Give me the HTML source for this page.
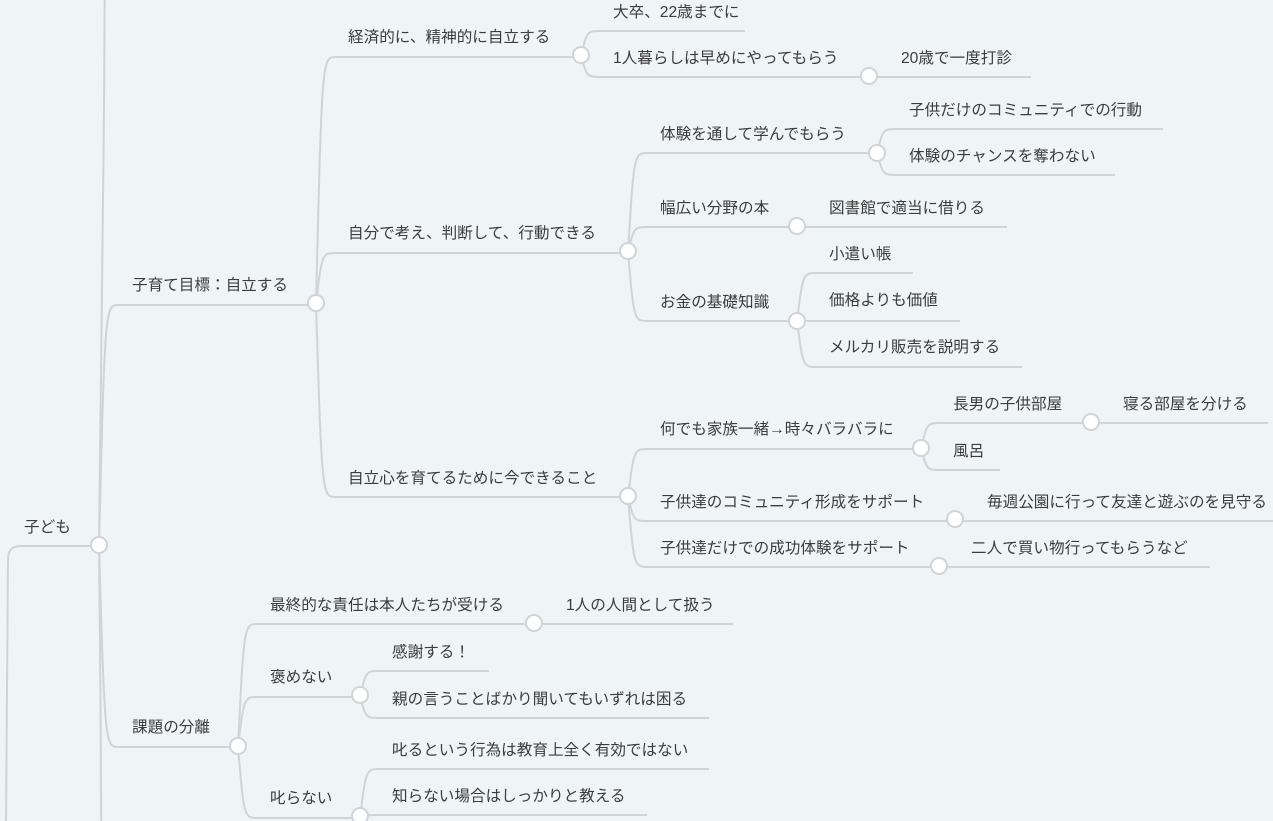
<!DOCTYPE html>
<html><head><meta charset="utf-8"><style>
html,body{margin:0;padding:0;background:#eff4f7;width:1273px;height:821px;overflow:hidden;}
svg{display:block}
text{font-family:"Liberation Sans","Noto Sans CJK JP",sans-serif;font-size:15.6px;fill:#3c3c3c;}
path{fill:none;stroke:#d0d4d8;stroke-width:2;}
circle{fill:#fff;stroke:#d0d4d8;stroke-width:2;}
</style></head><body>
<svg width="1273" height="821" viewBox="0 0 1273 821">
<path d="M99 546 L20 546 Q8 546 8 560 L6 821"/>
<path d="M99 546 C104 200 104 100 106 -200"/>
<path d="M99 546 C101 700 101 800 102 1000"/>
<path d="M99 546 C105 305 105 305 119 305 L316 305"/>
<path d="M99 546 C105 747 105 747 119 747 L238 747"/>
<path d="M316 304 C322 57 322 57 336 57 L581 57"/>
<path d="M316 304 C322 253 322 253 336 253 L628 253"/>
<path d="M316 304 C322 497 322 497 336 497 L628 497"/>
<path d="M581 56 C587 31 587 31 601 31 L745 31"/>
<path d="M581 56 C587 77 587 77 601 77 L869 77"/>
<path d="M869 77 L1031 77"/>
<path d="M628 252 C634 153 634 153 648 153 L877 153"/>
<path d="M628 252 C634 227 634 227 648 227 L797 227"/>
<path d="M628 252 C634 321 634 321 648 321 L797 321"/>
<path d="M877 153 C883 129 883 129 897 129 L1163 129"/>
<path d="M877 153 C883 175 883 175 897 175 L1115 175"/>
<path d="M797 227 L1007 227"/>
<path d="M797 321 C803 273 803 273 817 273 L913 273"/>
<path d="M797 321 L960 321"/>
<path d="M797 321 C803 367 803 367 817 367 L1022 367"/>
<path d="M628 497 C634 449 634 449 648 449 L921 449"/>
<path d="M628 497 C634 521 634 521 648 521 L955 521"/>
<path d="M628 497 C634 567 634 567 648 567 L939 567"/>
<path d="M921 449 C927 423 927 423 941 423 L1091 423"/>
<path d="M921 449 C927 470 927 470 941 470 L1000 470"/>
<path d="M1091 423 L1268 423"/>
<path d="M955 521 L1273 521"/>
<path d="M939 567 L1210 567"/>
<path d="M238 747 C244 624 244 624 258 624 L534 624"/>
<path d="M238 747 C244 697 244 697 258 697 L360 697"/>
<path d="M238 747 C244 818 244 818 258 818 L360 818"/>
<path d="M534 624 L733 624"/>
<path d="M360 697 C366 671 366 671 380 671 L489 671"/>
<path d="M360 697 C366 718 366 718 380 718 L709 718"/>
<path d="M360 818 C366 769 366 769 380 769 L709 769"/>
<path d="M360 818 C366 815 366 815 380 815 L647 815"/>

<circle cx="99" cy="545" r="8"/>
<circle cx="316" cy="303" r="8"/>
<circle cx="581" cy="55" r="8"/>
<circle cx="869" cy="76" r="8"/>
<circle cx="628" cy="251" r="8"/>
<circle cx="877" cy="153" r="8"/>
<circle cx="797" cy="226" r="8"/>
<circle cx="797" cy="321" r="8"/>
<circle cx="628" cy="496" r="8"/>
<circle cx="921" cy="448" r="8"/>
<circle cx="1091" cy="422" r="8"/>
<circle cx="955" cy="519" r="8"/>
<circle cx="939" cy="566" r="8"/>
<circle cx="238" cy="746" r="8"/>
<circle cx="534" cy="623" r="8"/>
<circle cx="360" cy="695" r="8"/>
<circle cx="360" cy="816" r="8"/>

<text x="24" y="532">子ども</text>
<text x="132" y="290">子育て目標：自立する</text>
<text x="132" y="732">課題の分離</text>
<text x="348" y="42">経済的に、精神的に自立する</text>
<text x="348" y="238">自分で考え、判断して、行動できる</text>
<text x="348" y="483">自立心を育てるために今できること</text>
<text x="613" y="17">大卒、22歳までに</text>
<text x="613" y="63">1人暮らしは早めにやってもらう</text>
<text x="901" y="63">20歳で一度打診</text>
<text x="660" y="139">体験を通して学んでもらう</text>
<text x="660" y="213">幅広い分野の本</text>
<text x="660" y="307">お金の基礎知識</text>
<text x="909" y="115">子供だけのコミュニティでの行動</text>
<text x="909" y="161">体験のチャンスを奪わない</text>
<text x="829" y="213">図書館で適当に借りる</text>
<text x="829" y="259">小遣い帳</text>
<text x="829" y="305">価格よりも価値</text>
<text x="829" y="352">メルカリ販売を説明する</text>
<text x="660" y="434">何でも家族一緒→時々バラバラに</text>
<text x="660" y="507">子供達のコミュニティ形成をサポート</text>
<text x="660" y="553">子供達だけでの成功体験をサポート</text>
<text x="953" y="409">長男の子供部屋</text>
<text x="953" y="456">風呂</text>
<text x="1123" y="409">寝る部屋を分ける</text>
<text x="987" y="507">毎週公園に行って友達と遊ぶのを見守る</text>
<text x="971" y="553">二人で買い物行ってもらうなど</text>
<text x="270" y="610">最終的な責任は本人たちが受ける</text>
<text x="270" y="682">褒めない</text>
<text x="270" y="803">叱らない</text>
<text x="566" y="610">1人の人間として扱う</text>
<text x="392" y="657">感謝する！</text>
<text x="392" y="704">親の言うことばかり聞いてもいずれは困る</text>
<text x="392" y="755">叱るという行為は教育上全く有効ではない</text>
<text x="392" y="801">知らない場合はしっかりと教える</text>
</svg>
</body></html>
